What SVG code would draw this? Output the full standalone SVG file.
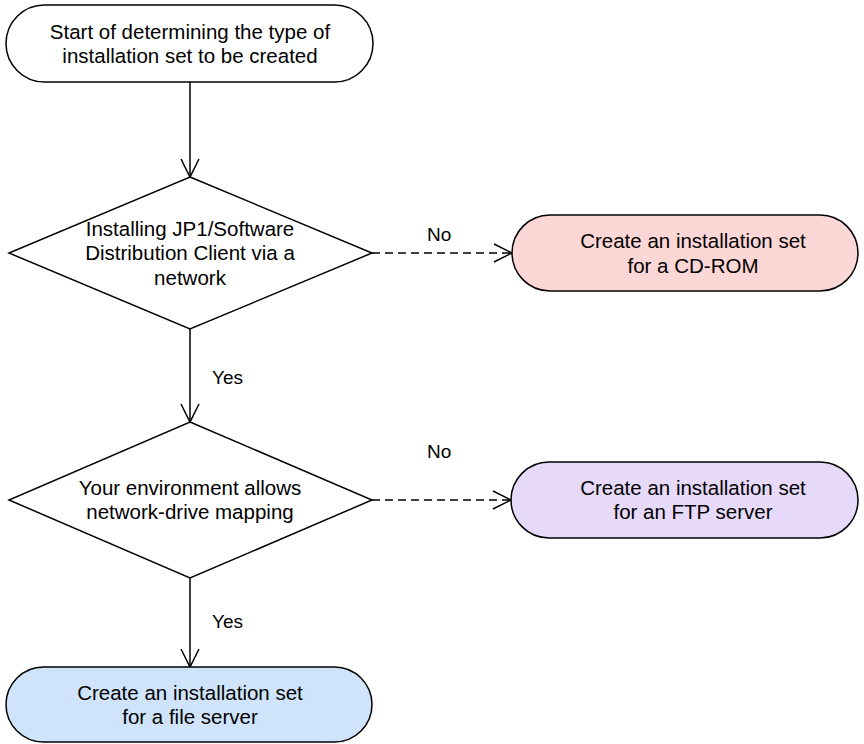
<svg xmlns="http://www.w3.org/2000/svg" width="864" height="744" viewBox="0 0 864 744">
<style>
.shape{stroke:#000;stroke-width:1.5}
.t{font-family:"Liberation Sans",Arial,sans-serif;font-size:20.5px;fill:#000;text-anchor:middle}
.l{font-family:"Liberation Sans",Arial,sans-serif;font-size:19px;fill:#000}
.c{fill:none;stroke:#000;stroke-width:1.5}
.d{stroke-dasharray:8 5}
</style>
<defs>
<marker id="ah" markerWidth="22" markerHeight="22" refX="19" refY="10" orient="auto" markerUnits="userSpaceOnUse">
<path d="M1,1 L19,10 L1,19" fill="none" stroke="#000" stroke-width="1.5"/>
</marker>
</defs>
<rect width="864" height="744" fill="#fff"/>
<g id="connectors">
<line class="c" x1="190" y1="82" x2="190" y2="177" marker-end="url(#ah)"/>
<line class="c d" x1="372" y1="253" x2="512" y2="253" marker-end="url(#ah)"/>
<line class="c" x1="190" y1="329" x2="190" y2="422" marker-end="url(#ah)"/>
<line class="c d" x1="372" y1="500" x2="511" y2="500" marker-end="url(#ah)"/>
<line class="c" x1="190" y1="578" x2="190" y2="667" marker-end="url(#ah)"/>
<text class="l" x="427" y="241">No</text>
<text class="l" x="212" y="384">Yes</text>
<text class="l" x="427" y="458">No</text>
<text class="l" x="212" y="628">Yes</text>
</g>
<g id="start">
<rect class="shape" x="6" y="5" width="367" height="77" rx="38.5" fill="#fff"/>
<text class="t" x="190" y="39">Start of determining the type of</text>
<text class="t" x="190" y="63">installation set to be created</text>
</g>
<g id="decision1">
<polygon class="shape" points="190,177 372,253 190,329 9,253" fill="#fff"/>
<text class="t" x="190" y="236">Installing JP1/Software</text>
<text class="t" x="190" y="260">Distribution Client via a</text>
<text class="t" x="190" y="285">network</text>
</g>
<g id="cdrom">
<rect class="shape" x="512" y="215" width="346" height="76" rx="38" fill="#fdd6d6"/>
<text class="t" x="693" y="248">Create an installation set</text>
<text class="t" x="693" y="273">for a CD-ROM</text>
</g>
<g id="decision2">
<polygon class="shape" points="190,422 372,500 190,578 9,500" fill="#fff"/>
<text class="t" x="190" y="495">Your environment allows</text>
<text class="t" x="190" y="519">network-drive mapping</text>
</g>
<g id="ftp">
<rect class="shape" x="511" y="462" width="347" height="76" rx="38" fill="#e7d9f9"/>
<text class="t" x="693" y="495">Create an installation set</text>
<text class="t" x="693" y="519">for an FTP server</text>
</g>
<g id="fileserver">
<rect class="shape" x="6" y="667" width="366" height="75" rx="37.5" fill="#cfe3fa"/>
<text class="t" x="190" y="700">Create an installation set</text>
<text class="t" x="190" y="724">for a file server</text>
</g>
</svg>
